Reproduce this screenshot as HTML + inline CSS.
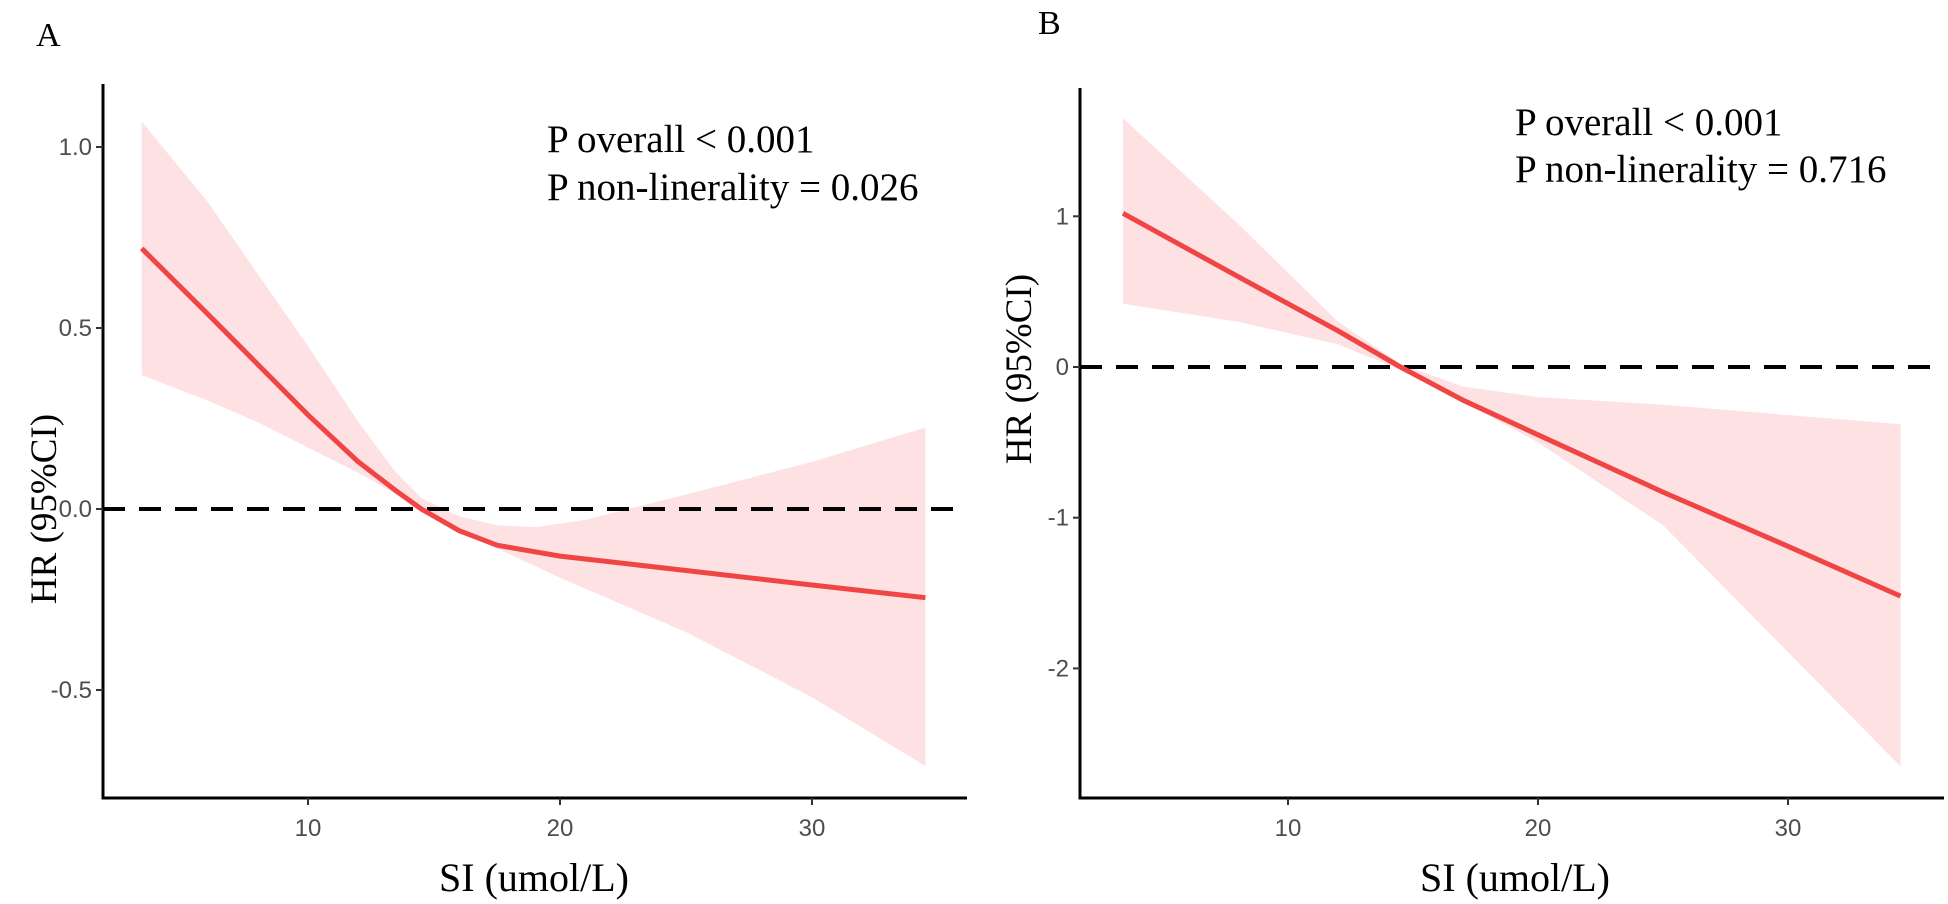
<!DOCTYPE html>
<html><head><meta charset="utf-8"><style>
html,body{margin:0;padding:0;background:#fff;}
svg{display:block;}
.tick{font-family:"Liberation Sans",Arial,sans-serif;font-size:24px;fill:#4d4d4d;}
.serif{font-family:"Liberation Serif","Times New Roman",serif;fill:#000;}
</style></head><body>
<svg id="chart" width="1948" height="904" viewBox="0 0 1948 904"></svg>
<script>
// Panel A data
const aLineX = [3.4,6,8,10,12,13.5,14.5,16,17.5,20,25,30,34.5];
const aLineY = [0.72,0.54,0.4,0.26,0.13,0.05,0.0,-0.06,-0.1,-0.13,-0.17,-0.21,-0.245];
const aUpX = [3.4,6,8,10,12,13.5,14.5,16,17.5,19,21,25,30,34.5];
const aUpY = [1.07,0.85,0.65,0.45,0.24,0.1,0.03,-0.02,-0.045,-0.05,-0.03,0.04,0.13,0.225];
const aLoX = [3.4,6,8,10,12,13.5,14.5,16,20,25,30,34.5];
const aLoY = [0.37,0.3,0.24,0.17,0.1,0.04,-0.01,-0.06,-0.19,-0.34,-0.52,-0.71];
const aYTicks = [1.0,0.5,0.0,-0.5];
const aYTickLabels = ["1.0","0.5","0.0","-0.5"];
// Panel B data
const bLineX = [3.4,8,12,14.5,17,20,25,30,34.5];
const bLineY = [1.02,0.6,0.24,0,-0.22,-0.45,-0.83,-1.19,-1.52];
const bUpX = [3.4,8,12,14.5,17,20,25,34.5];
const bUpY = [1.65,0.95,0.3,0.02,-0.13,-0.2,-0.25,-0.38];
const bLoX = [3.4,8,12,14.5,17,20,25,34.5];
const bLoY = [0.42,0.3,0.15,-0.02,-0.23,-0.5,-1.05,-2.65];
const bYTicks = [1,0,-1,-2];
const bYTickLabels = ["1","0","-1","-2"];
const xTicks = [10,20,30];
const xTickLabels = ["10","20","30"];

const NS="http://www.w3.org/2000/svg";
const svg=document.getElementById('chart');
function mk(tag,attrs,parent){const e=document.createElementNS(NS,tag);for(const k in attrs)e.setAttribute(k,attrs[k]);(parent||svg).appendChild(e);return e;}

function panel(cfg){
  const g=mk('g',{});
  
  
  const sx=v=>cfg.x0px+(v-10)*cfg.xUnit;
  const sy=v=>cfg.y0px-v*cfg.yUnit;
  let d='';
  cfg.upX.forEach((x,i)=>{d+=(i?'L':'M')+sx(x).toFixed(1)+','+sy(cfg.upY[i]).toFixed(1);});
  for(let i=cfg.loX.length-1;i>=0;i--){d+='L'+sx(cfg.loX[i]).toFixed(1)+','+sy(cfg.loY[i]).toFixed(1);}
  const band=mk('path',{d:d+'Z',fill:'#fde1e3'},g);
  
  
  const z=mk('line',{x1:cfg.axisX,x2:cfg.axisRight,y1:sy(0),y2:sy(0),stroke:'#000','stroke-width':4,'stroke-dasharray':'22 14'},g);
  
  
  let p='';
  cfg.lineX.forEach((x,i)=>{p+=(i?'L':'M')+sx(x).toFixed(1)+','+sy(cfg.lineY[i]).toFixed(1);});
  const ln=mk('path',{d:p,fill:'none',stroke:'#f04545','stroke-width':5,'stroke-linejoin':'round'},g);
  
  
  const ya=mk('line',{x1:cfg.axisX,x2:cfg.axisX,y1:cfg.axisTop,y2:cfg.axisBottom+1.5,stroke:'#000','stroke-width':3},g);
  
  
  const xa=mk('line',{x1:cfg.axisX-1.5,x2:cfg.axisRight,y1:cfg.axisBottom,y2:cfg.axisBottom,stroke:'#000','stroke-width':3},g);
  
  
  cfg.yTicks.forEach((v,i)=>{
    mk('line',{x1:cfg.axisX-7,x2:cfg.axisX,y1:sy(v),y2:sy(v),stroke:'#333','stroke-width':2},g);
    const t=mk('text',{x:cfg.axisX-11,y:sy(v)+8,'text-anchor':'end',class:'tick'},g);
    t.textContent=cfg.yLabels[i];
    
    
  });
  xTicks.forEach((v,i)=>{
    mk('line',{x1:sx(v),x2:sx(v),y1:cfg.axisBottom,y2:cfg.axisBottom+7,stroke:'#333','stroke-width':2},g);
    const t=mk('text',{x:sx(v),y:836,'text-anchor':'middle',class:'tick'},g);
    t.textContent=xTickLabels[i];
    
    
  });
}

panel({name:'panel-a',x0px:308,xUnit:25.2,y0px:509,yUnit:362,axisX:103,axisTop:84,axisBottom:798,axisRight:967,
  upX:aUpX,upY:aUpY,loX:aLoX,loY:aLoY,lineX:aLineX,lineY:aLineY,yTicks:aYTicks,yLabels:aYTickLabels});
panel({name:'panel-b',x0px:1288,xUnit:25,y0px:367,yUnit:150.7,axisX:1080,axisTop:88,axisBottom:798,axisRight:1944,
  upX:bUpX,upY:bUpY,loX:bLoX,loY:bLoY,lineX:bLineX,lineY:bLineY,yTicks:bYTicks,yLabels:bYTickLabels});
</script>
<svg width="1948" height="904" style="position:absolute;left:0;top:0;">
  <text x="36" y="46" class="serif" font-size="34">A</text>
  <text x="1038" y="34" class="serif" font-size="34">B</text>
  <text x="547" y="152" class="serif" font-size="39">P overall &lt; 0.001</text>
  <text x="547" y="200" class="serif" font-size="39">P non-linerality = 0.026</text>
  <text x="1515" y="135" class="serif" font-size="39">P overall &lt; 0.001</text>
  <text x="1515" y="182" class="serif" font-size="39">P non-linerality = 0.716</text>
  <text x="534" y="891" text-anchor="middle" class="serif" font-size="40">SI (umol/L)</text>
  <text x="1515" y="891" text-anchor="middle" class="serif" font-size="40">SI (umol/L)</text>
  <text transform="translate(56,509) rotate(-90)" text-anchor="middle" class="serif" font-size="37">HR (95%CI)</text>
  <text transform="translate(1031,369) rotate(-90)" text-anchor="middle" class="serif" font-size="37">HR (95%CI)</text>
</svg>
</body></html>
